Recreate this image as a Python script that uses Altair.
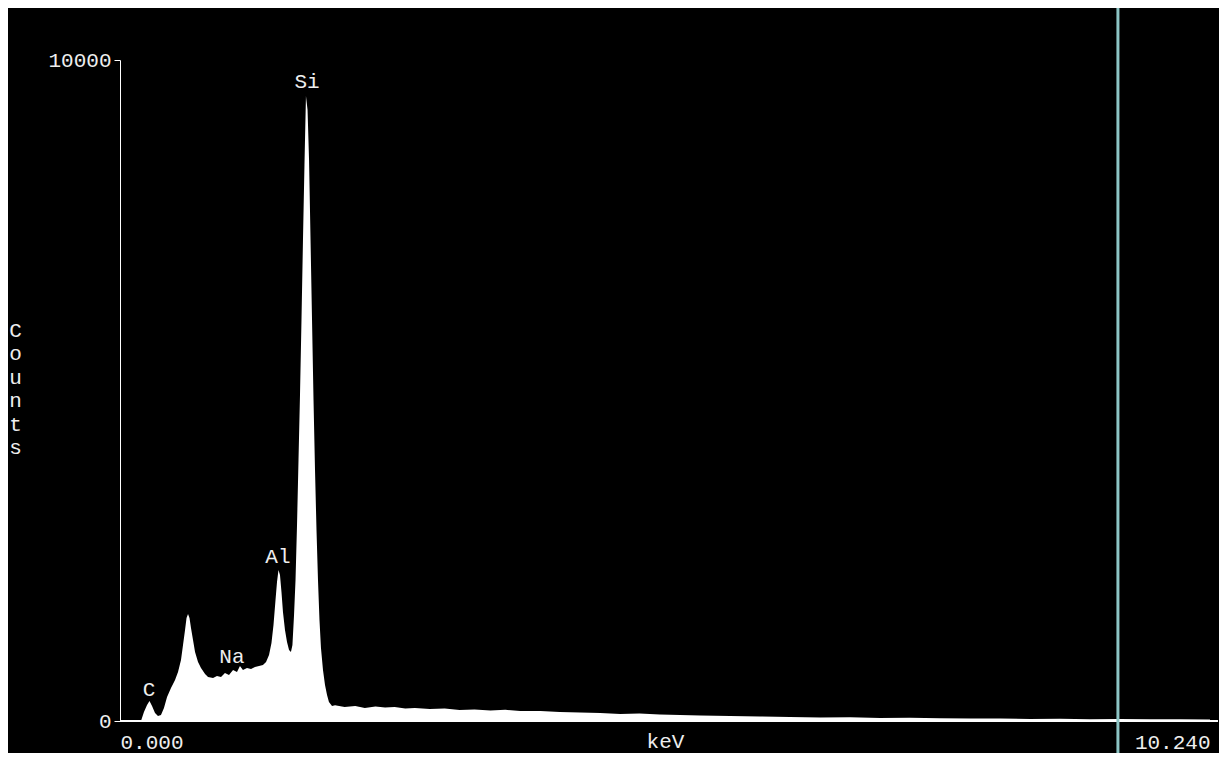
import altair as alt
import pandas as pd

# Spectrum (energy in keV, counts)
energy_kev = [
    0.000, 0.197, 0.225, 0.254, 0.277, 0.301, 0.329, 0.357, 0.385, 0.413,
    0.442, 0.479, 0.517, 0.545, 0.573, 0.592, 0.611, 0.625, 0.639, 0.653,
    0.667, 0.686, 0.705, 0.733, 0.761, 0.799, 0.827, 0.874, 0.911, 0.949,
    0.986, 1.024, 1.062, 1.099, 1.127, 1.155, 1.193, 1.231, 1.268, 1.306,
    1.343, 1.372, 1.400, 1.423, 1.442, 1.461, 1.475, 1.489, 1.503, 1.517,
    1.531, 1.550, 1.569, 1.588, 1.606, 1.620, 1.635, 1.649, 1.663, 1.677,
    1.691, 1.705, 1.719, 1.733, 1.747, 1.762, 1.776, 1.790, 1.804, 1.818,
    1.832, 1.846, 1.860, 1.874, 1.888, 1.907, 1.926, 1.945, 1.963, 1.992,
    2.02, 2.11, 2.21, 2.30, 2.40, 2.49, 2.58, 2.68, 2.77, 2.91,
    3.05, 3.19, 3.33, 3.48, 3.62, 3.76, 3.95, 4.13, 4.32, 4.51,
    4.70, 4.88, 5.07, 5.26, 5.45, 5.73, 6.01, 6.29, 6.58, 6.86,
    7.14, 7.42, 7.70, 7.99, 8.27, 8.55, 8.83, 9.11, 9.39, 9.68,
    9.96, 10.24,
]
counts = [
    0, 0, 136, 242, 303, 227, 121, 76, 91, 197,
    363, 499, 620, 741, 923, 1150, 1377, 1558, 1619, 1558,
    1407, 1226, 1044, 893, 802, 711, 666, 651, 681, 666,
    726, 696, 772, 741, 832, 772, 802, 787, 817, 832,
    847, 893, 999, 1180, 1452, 1831, 2103, 2285, 2209, 1952,
    1649, 1377, 1195, 1074, 1044, 1150, 1604, 2133, 2965, 3949,
    4932, 6067, 7277, 8412, 9456, 9244, 8488, 7277, 6067, 4857,
    3798, 2890, 2133, 1528, 1104, 772, 545, 393, 287, 227,
    240, 212, 227, 197, 220, 205, 212, 190, 197, 182,
    190, 167, 175, 160, 170, 152, 150, 136, 128, 121,
    106, 113, 98, 91, 83, 76, 68, 61, 53, 58,
    46, 50, 40, 38, 36, 32, 34, 28, 30, 25,
    27, 22,
]

# Element labels
label_names = ["C", "Na", "Al", "Si"]
label_kev = [0.272, 1.052, 1.484, 1.757]
label_counts = [469, 968, 2481, 9668]

# Cursor marker
cursor_kev = [9.375]

x_ticks = [0, 10.24]
y_ticks = [0, 10000]

FONT = "Liberation Mono"
FG = "#eeeeee"

spec = pd.DataFrame({"keV": energy_kev, "Counts": counts})
labels = pd.DataFrame({"name": label_names, "keV": label_kev, "Counts": label_counts})
cursor = pd.DataFrame({"keV": cursor_kev})

x_enc = alt.X(
    "keV:Q",
    scale=alt.Scale(domain=[0, 10.24], nice=False, zero=False),
    axis=alt.Axis(
        values=x_ticks, format=".3f", ticks=False, labelFlush=True,
        labelPadding=10, domainColor="#ffffff", grid=False,
        title="keV", titleY=26, titleBaseline="alphabetic",
    ),
)
y_enc = alt.Y(
    "Counts:Q",
    scale=alt.Scale(domain=[0, 10000], nice=False),
    axis=alt.Axis(
        values=y_ticks, format="d", tickSize=6, tickColor="#ffffff",
        domainColor="#ffffff", labelPadding=3, grid=False,
        title=["C", "o", "u", "n", "t", "s"], titleAngle=0,
        titleX=-105, titleY=259, titleAlign="center", titleBaseline="top",
        titleLineHeight=23.5,
    ),
)

area = alt.Chart(spec).mark_area(color="#ffffff", interpolate="linear", opacity=1).encode(
    x=x_enc, y=y_enc
)

baseline = alt.Chart(spec).mark_rule(color="#ffffff", strokeWidth=1).encode(
    x=alt.value(0), x2=alt.value(1098), y=alt.value(661)
)

text = alt.Chart(labels).mark_text(
    font=FONT, fontSize=21, color=FG, align="center", baseline="middle"
).encode(x="keV:Q", y="Counts:Q", text="name:N")

rule = alt.Chart(cursor).mark_rule(color="#8cc4c4", strokeWidth=3).encode(
    x="keV:Q", y=alt.value(-60), y2=alt.value(700)
)

chart = (
    alt.layer(area, baseline, text, rule)
    .properties(
        width=1090,
        height=661,
        padding={"left": 112, "top": 52, "right": 9, "bottom": 32},
        autosize=alt.AutoSizeParams(type="none"),
        background="#000000",
    )
    .configure_axis(
        labelFont=FONT, labelFontSize=21, labelColor=FG,
        titleFont=FONT, titleFontSize=21, titleColor=FG, titleFontWeight="normal",
    )
    .configure_view(strokeWidth=0)
)

chart.save("out.html", embed_options={"renderer": "svg", "actions": False})
